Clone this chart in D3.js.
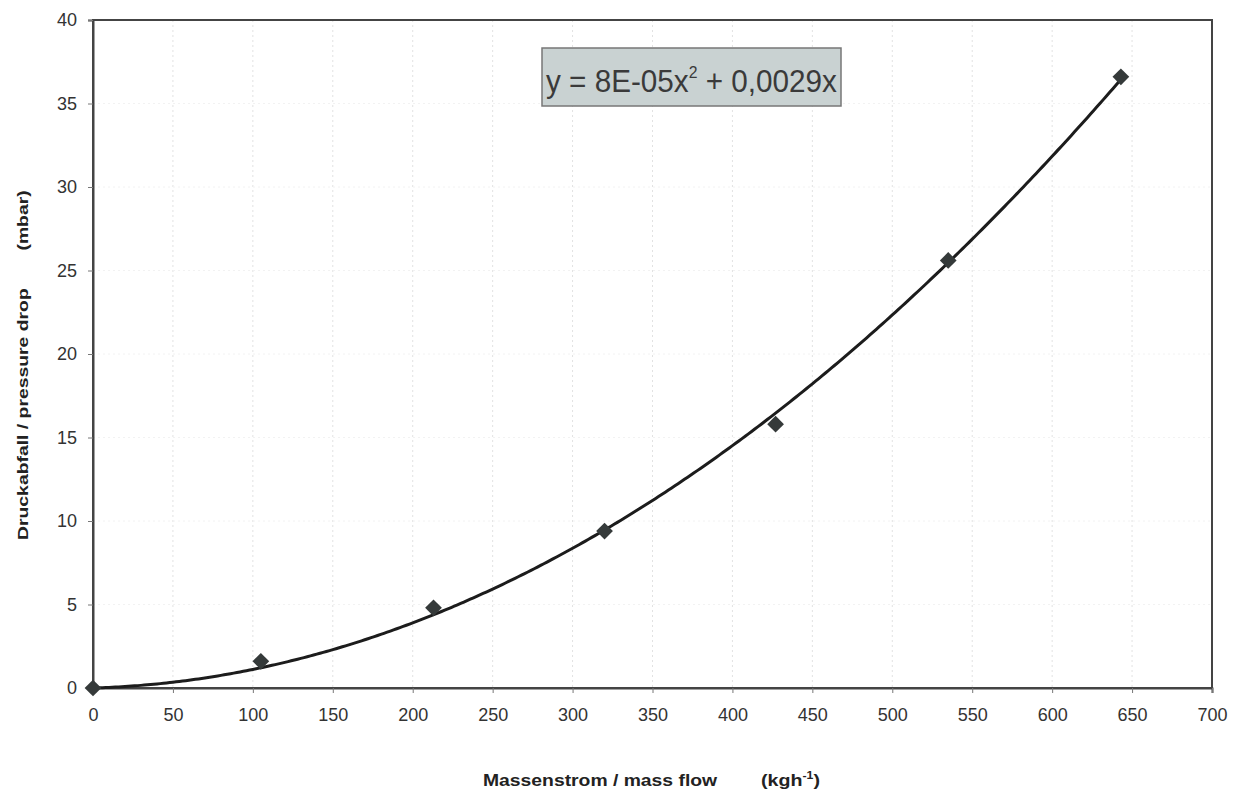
<!DOCTYPE html>
<html><head><meta charset="utf-8">
<script src="https://cdn.jsdelivr.net/npm/d3@7"></script>
<style>body{margin:0;background:#fff;} text{font-family:Arial,"Liberation Sans",sans-serif;}</style>
</head><body>
<svg id="c" width="1239" height="792"></svg>
<script>
const massFlow = [0, 105, 213, 320, 427, 535, 643];
const pressureDrop = [0, 1.6, 4.8, 9.4, 15.8, 25.6, 36.6];
const xTicks = [0,50,100,150,200,250,300,350,400,450,500,550,600,650,700];
const yTicks = [0,5,10,15,20,25,30,35,40];

const svg = d3.select("#c");
const m = {l:93, r:1212, t:20, b:688};
const x = d3.scaleLinear().domain([0,700]).range([m.l, m.r]);
const y = d3.scaleLinear().domain([0,40]).range([m.b, m.t]);

function fitX(sel, x0, y0, w){
  const bw = sel.node().getBBox().width;
  sel.attr("transform", `translate(${x0},${y0}) scale(${w/bw},1)`);
}

// grid
svg.append("g").selectAll("line").data(xTicks.slice(1,-1)).join("line")
  .attr("x1",d=>x(d)).attr("x2",d=>x(d)).attr("y1",m.t).attr("y2",m.b)
  .attr("stroke","#e2e2e2").attr("stroke-width",1).attr("stroke-dasharray","2,3");
svg.append("g").selectAll("line").data(yTicks.slice(1,-1)).join("line")
  .attr("x1",m.l).attr("x2",m.r).attr("y1",d=>y(d)).attr("y2",d=>y(d))
  .attr("stroke","#f2f2f2").attr("stroke-width",1).attr("stroke-dasharray","2,3");

// frame
svg.append("rect").attr("x",m.l).attr("y",m.t).attr("width",m.r-m.l).attr("height",m.b-m.t)
  .attr("fill","none").attr("stroke","#444").attr("stroke-width",2);

// axes
const xa = svg.append("g").attr("transform",`translate(0,${m.b})`)
  .call(d3.axisBottom(x).tickValues(xTicks).tickSize(5).tickPadding(15));
const ya = svg.append("g").attr("transform",`translate(${m.l},0)`)
  .call(d3.axisLeft(y).tickValues(yTicks).tickSize(5).tickPadding(11));
[xa,ya].forEach(a=>{
  a.select(".domain").attr("stroke","#444").attr("stroke-width",2);
  a.selectAll(".tick line").attr("stroke","#777");
  a.selectAll(".tick text").attr("font-size",18).attr("fill","#333");
});

// least-squares quadratic through origin fitted to the data
let s4=0,s3=0,s2=0,sx2y=0,sxy=0;
massFlow.forEach((xi,i)=>{const yi=pressureDrop[i];
  s4+=xi**4; s3+=xi**3; s2+=xi**2; sx2y+=xi*xi*yi; sxy+=xi*yi;});
const det = s4*s2 - s3*s3;
const a = (sx2y*s2 - sxy*s3)/det;
const b = (s4*sxy - s3*sx2y)/det;
const xs = d3.range(0, 643.01, 2);
svg.append("path").datum(xs)
  .attr("d", d3.line().x(d=>x(d)).y(d=>y(a*d*d+b*d)))
  .attr("fill","none").attr("stroke","#1c1c1c").attr("stroke-width",3);

// markers (diamond = rotated square)
svg.append("g").selectAll("path").data(massFlow).join("path")
  .attr("transform",(d,i)=>`translate(${x(d)},${y(pressureDrop[i])}) rotate(45)`)
  .attr("d", d3.symbol(d3.symbolSquare, 140))
  .attr("fill","#353a3a");

// equation box
svg.append("rect").attr("x",542).attr("y",48).attr("width",299).attr("height",58)
  .attr("fill","#c9d2d2").attr("stroke","#777").attr("stroke-width",1.5);
const t = svg.append("text").attr("font-size",32).attr("fill","#3a3a3a");
t.append("tspan").text("y = 8E-05x");
t.append("tspan").attr("dy",-14).attr("font-size",17).text("2");
t.append("tspan").attr("dy",14).text(" + 0,0029x");
fitX(t, 546, 92, 291);

// axis titles
const yt = svg.append("text").attr("font-size",15).attr("font-weight","bold").attr("fill","#222")
  .text("Druckabfall / pressure drop\u00A0\u00A0\u00A0\u00A0\u00A0\u00A0\u00A0(mbar)");
{
  const bw = yt.node().getBBox().width;
  yt.attr("transform", `translate(28,540) rotate(-90) scale(${350/bw},1)`);
}
const xt1 = svg.append("text").attr("font-size",16).attr("font-weight","bold").attr("fill","#222")
  .text("Massenstrom / mass flow");
fitX(xt1, 483, 786, 235);
const xt2 = svg.append("text").attr("font-size",16).attr("font-weight","bold").attr("fill","#222");
xt2.append("tspan").text("(kgh");
xt2.append("tspan").attr("dy",-7).attr("font-size",10).text("-1");
xt2.append("tspan").attr("dy",7).text(")");
fitX(xt2, 761, 786, 59);
</script>
</body></html>
